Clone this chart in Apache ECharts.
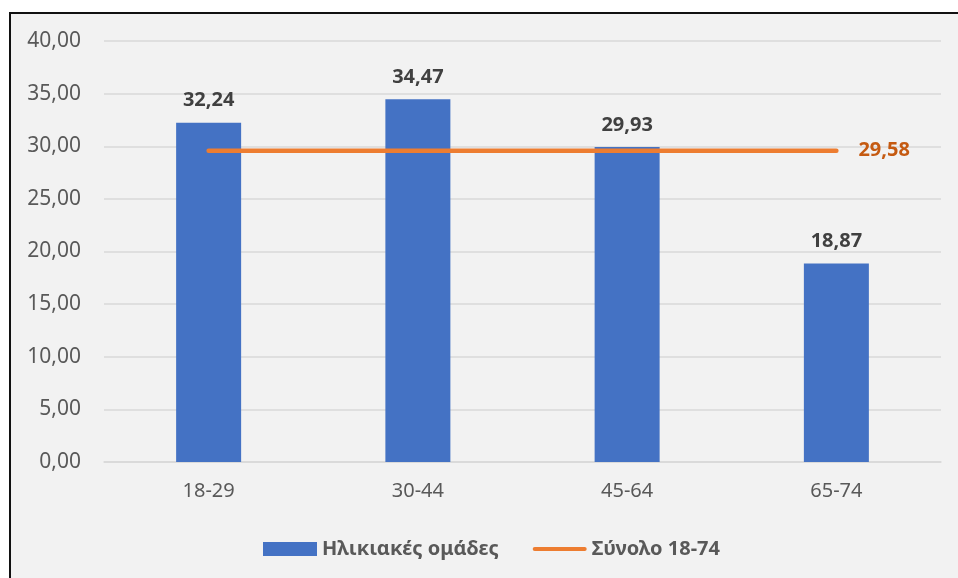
<!DOCTYPE html>
<html>
<head>
<meta charset="utf-8">
<style>
html,body{margin:0;padding:0;background:#fff;}
#c{width:958px;height:578px;}
</style>
<script src="https://cdn.jsdelivr.net/npm/echarts@6/dist/echarts.min.js"></script>
</head>
<body>
<div id="c"></div>
<script>
const categories = ['18-29', '30-44', '45-64', '65-74'];
const ageGroupValues = [32.24, 34.47, 29.93, 18.87];
const totalValue = 29.58;
const totalValues = [totalValue, totalValue, totalValue, totalValue];
const barName = 'Ηλικιακές ομάδες';
const lineName = 'Σύνολο 18-74';

const FONT = '"Noto Sans", sans-serif';
const fmt = v => Number(v).toFixed(2).replace('.', ',');

const chart = echarts.init(document.getElementById('c'), null, {renderer: 'canvas'});
chart.setOption({
  animation: false,
  textStyle: {fontFamily: FONT},
  graphic: [
    {type: 'rect', z: -10, silent: true, shape: {x: 10, y: 13, width: 948, height: 565}, style: {fill: '#F2F2F2'}},
    {type: 'line', z: -9, silent: true, shape: {x1: 9, y1: 13, x2: 958, y2: 13}, style: {stroke: '#111', lineWidth: 2}},
    {type: 'line', z: -9, silent: true, shape: {x1: 10, y1: 12, x2: 10, y2: 578}, style: {stroke: '#111', lineWidth: 2}}
  ],
  grid: {left: 104, right: 17, top: 41, bottom: 116, containLabel: false},
  legend: {
    bottom: 14,
    left: 258,
    itemWidth: 54,
    itemHeight: 14,
    itemGap: 34,
    symbolKeepAspect: true,
    textStyle: {fontFamily: FONT, fontSize: 20, fontWeight: 'bold', color: '#595959'},
    data: [
      {name: barName, icon: 'rect'},
      {name: lineName, icon: 'path://M2,0 L51,0 A2,2 0 0 1 51,4 L2,4 A2,2 0 0 1 2,0 Z'}
    ]
  },
  xAxis: {
    type: 'category',
    data: categories,
    axisTick: {show: false},
    axisLine: {lineStyle: {color: '#D9D9D9', width: 1.5}},
    axisLabel: {color: '#595959', fontSize: 20, margin: 19, fontFamily: FONT}
  },
  yAxis: {
    type: 'value',
    min: 0,
    max: 40,
    interval: 5,
    axisLine: {show: false},
    axisTick: {show: false},
    splitLine: {lineStyle: {color: '#D9D9D9', width: 1.5}},
    axisLabel: {color: '#595959', fontSize: 21, margin: 23, fontFamily: FONT, formatter: fmt}
  },
  series: [
    {
      name: barName,
      type: 'bar',
      data: ageGroupValues,
      barWidth: 65,
      itemStyle: {color: '#4472C4'},
      label: {
        show: true,
        position: 'top',
        distance: 12,
        fontSize: 20,
        fontWeight: 'bold',
        color: '#404040',
        fontFamily: FONT,
        formatter: p => fmt(p.value)
      }
    },
    {
      name: lineName,
      type: 'line',
      data: totalValues,
      symbol: 'none',
      z: 5,
      lineStyle: {color: '#ED7D31', width: 4.5, cap: 'round'},
      itemStyle: {color: '#ED7D31'},
      endLabel: {
        show: true,
        distance: 22,
        fontSize: 20,
        fontWeight: 'bold',
        color: '#C55A11',
        fontFamily: FONT,
        formatter: p => fmt(p.value)
      }
    }
  ]
});
</script>
</body>
</html>
